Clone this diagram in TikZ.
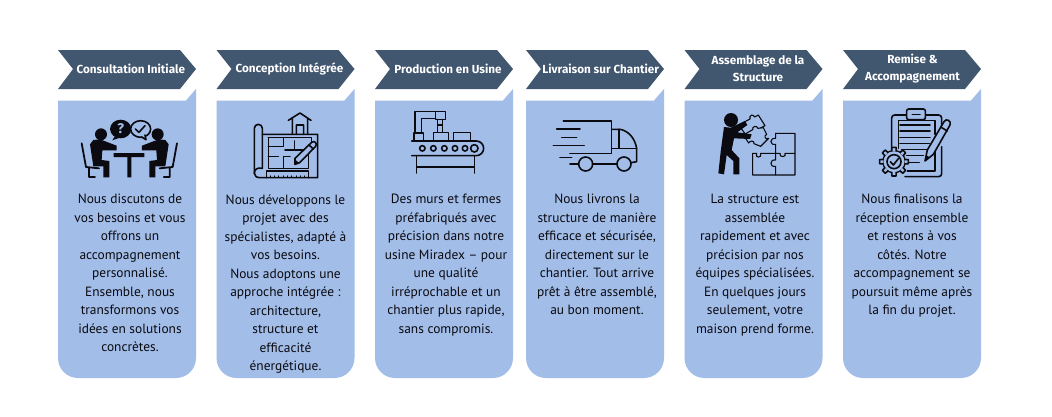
\documentclass[tikz,border=0pt]{standalone}
\usepackage{fontspec}
\setmainfont{PT Sans}
\newfontfamily\headfont{Fira Sans}
\usetikzlibrary{calc}
\definecolor{chev}{HTML}{41566F}
\definecolor{cardblue}{HTML}{A2BDE8}
\definecolor{ink}{HTML}{0A0A10}
\tikzset{
  banner/.style={fill=chev,draw=none},
  panel/.style={fill=cardblue,draw=none},
  titletext/.style={text=white,font=\headfont\fontsize{11.7}{17}\selectfont\bfseries,align=center,inner sep=0pt},
  bodytext/.style={text=ink,font=\fontsize{13.4}{18.5}\selectfont,align=center,inner sep=0pt,anchor=north},
  icon/.style={draw=ink,line width=1.6pt,line cap=round,line join=round},
  solid ink/.style={fill=ink,draw=none},
  iconat/.style 2 args={shift={(#1pt,-#2pt)},x=0.3333pt,y=-0.3333pt},
}
% x start, id, title x offset, body x offset, title, body
\newcommand\stepcolumn[6]{%
  \begin{scope}[shift={(#1pt,0pt)}]
    \path[banner] (0,50) -- (122,50) -- (138,69) -- (122,89) -- (0,89) -- (15,69) -- cycle;
    \path[panel] (0,100.5) -- (128,100.5) -- (138,89) -- (138,358) arc[start angle=0,end angle=-90,radius=20pt] -- (20,378) arc[start angle=-90,end angle=-180,radius=20pt] -- cycle;
    \node[titletext] (title#2) at (#3,69) {#5};
    \node[bodytext] (body#2) at (#4,194.2) {#6};
  \end{scope}}
\begin{document}
\begin{tikzpicture}[x=1pt,y=-1pt]
\useasboundingbox[fill=white] (0,0) rectangle (1052,416);
\stepcolumn{58}{a}{72.8}{72}{Consultation Initiale}{Nous discutons de\\vos besoins et vous\\offrons un\\accompagnement\\personnalisé.\\Ensemble, nous\\transformons vos\\idées en solutions\\concrètes.}
\stepcolumn{216.5}{b}{73}{69}{Conception Intégrée}{Nous développons le\\projet avec des\\spécialistes, adapté à\\vos besoins.\\Nous adoptons une\\approche intégrée :\\architecture,\\structure et\\efficacité\\énergétique.}
\stepcolumn{375}{c}{73}{71}{Production en Usine}{Des murs et fermes\\préfabriqués avec\\précision dans notre\\usine Miradex – pour\\une qualité\\irréprochable et un\\chantier plus rapide,\\sans compromis.}
\stepcolumn{526}{d}{74.7}{71}{Livraison sur Chantier}{Nous livrons la\\structure de manière\\efficace et sécurisée,\\directement sur le\\chantier. Tout arrive\\prêt à être assemblé,\\au bon moment.}
\stepcolumn{684.5}{e}{73.5}{70.5}{Assemblage de la\\Structure}{La structure est\\assemblée\\rapidement et avec\\précision par nos\\équipes spécialisées.\\En quelques jours\\seulement, votre\\maison prend forme.}
\stepcolumn{843}{f}{69.5}{69}{Remise \&\\Accompagnement}{Nous finalisons la\\réception ensemble\\et restons à vos\\côtés. Notre\\accompagnement se\\poursuit même après\\la fin du projet.}

% ---- icon 1: meeting
\begin{scope}[iconat={75}{105}]
  \foreach \m in {1,-1}{
  \begin{scope}[shift={(163,0)},xscale=\m,shift={(-163,0)}]
    \path[solid ink] (78,88) circle[radius=6pt];
    \path[solid ink] (55,105) -- (75,103) -- (125,122) -- (125,136) -- (82,136) -- (80,165) -- (103,168) -- (103,217) -- (85,217) -- (85,184) -- (55,184) -- (45,118) -- cycle;
    \path[icon,line width=1.8pt] (20,115) -- (33,186) -- (72,190) (42,190) -- (42,216) -- (60,216);
  \end{scope}}
  \path[solid ink] (116,144) rectangle (208,156) (157,150) rectangle (169,217);
  \path[solid ink] (137,72) ellipse[x radius=10.6pt,y radius=9.3pt];
  \path[solid ink] (122,90) -- (112,106) -- (140,96) -- cycle;
  \node[text=cardblue,font=\headfont\fontsize{14}{14}\selectfont\bfseries,inner sep=0pt] (qmark) at (137,72) {?};
  \path[icon,fill=cardblue] (197,72) ellipse[x radius=10pt,y radius=8.3pt];
  \path[icon,fill=cardblue] (200,96) -- (213,104) -- (210,90);
  \path[icon] (181,72) -- (192,82) -- (210,62);
\end{scope}

% ---- icon 2: plan
\begin{scope}[iconat={245}{105},every path/.append style={icon}]
  \draw (28,205) -- (28,70) arc[start angle=180,end angle=0,radius=4pt] -- (52,190);
  \draw (52,190) .. controls (35,186) and (28,195) .. (28,205) .. controls (28,213) and (35,218) .. (45,218) -- (218,218) -- (218,88) -- (52,88);
  \draw (70,98) -- (70,190) -- (190,190) -- (190,150) (70,98) -- (200,98) -- (200,115);
  \draw (64,218) -- (64,198) -- (190,198) -- (190,218);
  \draw[line width=0.6pt] \foreach \x in {75,88,...,180}{(\x,212) -- (\x,218)};
  \draw (130,46) -- (165,24) -- (198,46) (142,40) -- (142,88) (188,40) -- (188,88) (154,88) -- (154,60) -- (176,60) -- (176,88);
  \draw (70,125) -- (115,125) -- (115,98) (70,155) -- (100,155) (120,135) -- (182,135) (148,108) -- (148,135) (115,190) -- (115,155) -- (135,155);
  \draw[fill=cardblue] (150,160) -- (200,112) .. controls (208,105) and (218,115) .. (212,124) -- (164,173) -- (150,178) -- cycle;
  \path[solid ink,draw=none] (150,178) -- (152,165) -- (162,174) -- cycle;
  \draw (192,120) -- (205,132);
\end{scope}

% ---- icon 3: factory
\begin{scope}[iconat={405}{105},every path/.append style={icon}]
  \draw (30,82) -- (30,20) -- (92,20) (50,82) -- (50,41) -- (92,41);
  \draw (27,84) rectangle (55,106);
  \draw (92,20) -- (122,20) -- (122,44) -- (92,44) -- cycle;
  \draw (98,44) -- (98,80) (112,44) -- (112,80) (98,60) -- (112,60);
  \draw (86,82) rectangle (130,106) (146,82) rectangle (196,106);
  \draw (20,108) -- (214,108) arc[start angle=90,end angle=-90,radius=7.33pt] -- (20,152);
  \foreach \cx/\r in {52/2.7,85/2.7,118/2.7,150/2.7,180/2.7,208/3.7}{\draw (\cx,130) circle[radius=\r pt];}
  \draw (35,152) -- (35,204) (208,152) -- (208,204) (35,186) -- (208,186);
\end{scope}

% ---- icon 4: truck
\begin{scope}[iconat={545}{110},every path/.append style={icon}]
  \draw (55,33) -- (200,33) -- (200,130) -- (75,130);
  \draw (200,58) -- (225,58) .. controls (250,62) and (270,85) .. (275,115) -- (275,155) -- (258,158);
  \draw (222,58) -- (222,115) -- (275,115) (200,115) -- (222,115);
  \draw (35,57) -- (105,57) (50,82) -- (95,82) (25,107) -- (118,107) (45,143) -- (80,143) (75,162) -- (100,162) (142,162) -- (217,162);
  \draw (122,162) circle[radius=7pt] (237,162) circle[radius=7pt];
\end{scope}

% ---- icon 5: puzzle worker
\begin{scope}[iconat={710}{105},every path/.append style={icon}]
  % held pieces
  \draw[fill=cardblue,line width=1.1pt] (86,60) -- (120,42) .. controls (116,30) and (130,26) .. (134,36) -- (145,30) -- (165,62) -- (150,70) -- (112,96) -- cycle;
  \draw[fill=cardblue,line width=1.1pt] (100,90) -- (128,74) .. controls (126,64) and (140,60) .. (144,70) -- (160,68) -- (170,88) .. controls (160,92) and (166,106) .. (176,100) -- (152,124) -- (132,116) .. controls (134,106) and (120,106) .. (116,114) -- cycle;
  \path[solid ink,draw=none] (63,45) circle[radius=7pt];
  \path[solid ink,draw=none] (42,66) -- (62,68) -- (105,48) -- (112,60) -- (82,82) -- (125,88) -- (120,102) -- (72,100) -- (65,135) -- (88,160) -- (88,208) -- (70,208) -- (70,168) -- (50,150) -- (42,208) -- (25,205) -- (32,140) -- cycle;
  % big pieces
  \draw[line width=1.1pt] (197,85) -- (255,85) -- (255,210) -- (128,210) -- (128,145) -- (140,145) .. controls (132,160) and (158,160) .. (152,145) -- (197,145);
  \draw[line width=1.1pt] (197,85) -- (197,100) .. controls (178,98) and (178,122) .. (197,118) -- (197,145) -- (210,145) .. controls (205,158) and (232,158) .. (225,145) -- (255,145);
  \draw[line width=1.1pt] (197,145) -- (197,165) .. controls (178,162) and (178,188) .. (197,184) -- (197,210);
\end{scope}

% ---- icon 6: clipboard
\begin{scope}[iconat={870}{105},every path/.append style={icon}]
  \draw[rounded corners=3pt] (65,135) -- (65,30) -- (215,30) -- (215,80) (215,125) -- (215,215) -- (105,215);
  \draw (85,130) -- (85,46) -- (195,46) -- (195,88) (195,120) -- (195,198) -- (112,198);
  \draw[fill=cardblue,rounded corners=2pt] (110,12) rectangle (166,44);
  \draw (127,29) -- (150,29);
  \draw (90,60) -- (180,60) (90,78) -- (180,78) (90,97) -- (180,97) (90,115) -- (178,115) (95,133) -- (170,133) (110,152) -- (160,152) (115,172) -- (148,172);
  \draw[fill=cardblue] (165,168) -- (172,135) -- (222,50) .. controls (228,38) and (246,48) .. (240,60) -- (190,148) -- cycle;
  \draw (212,66) -- (232,78);
  \path[solid ink,draw=none] (165,168) -- (168,150) -- (180,158) -- cycle;
  \draw[fill=cardblue] (72,170) circle[radius=11pt];
  \foreach \a in {0,45,...,315}{\draw[fill=cardblue] ($(72,170)+(\a-12:10.8pt)$) -- ($(72,170)+(\a-8:14.5pt)$) -- ($(72,170)+(\a+8:14.5pt)$) -- ($(72,170)+(\a+12:10.8pt)$);}
  \path[fill=cardblue,draw=none] (72,170) circle[radius=10.4pt];
  \draw (72,170) circle[radius=7pt];
  \draw (61,170) -- (70,180) -- (85,161);
\end{scope}
\end{tikzpicture}
\end{document}
